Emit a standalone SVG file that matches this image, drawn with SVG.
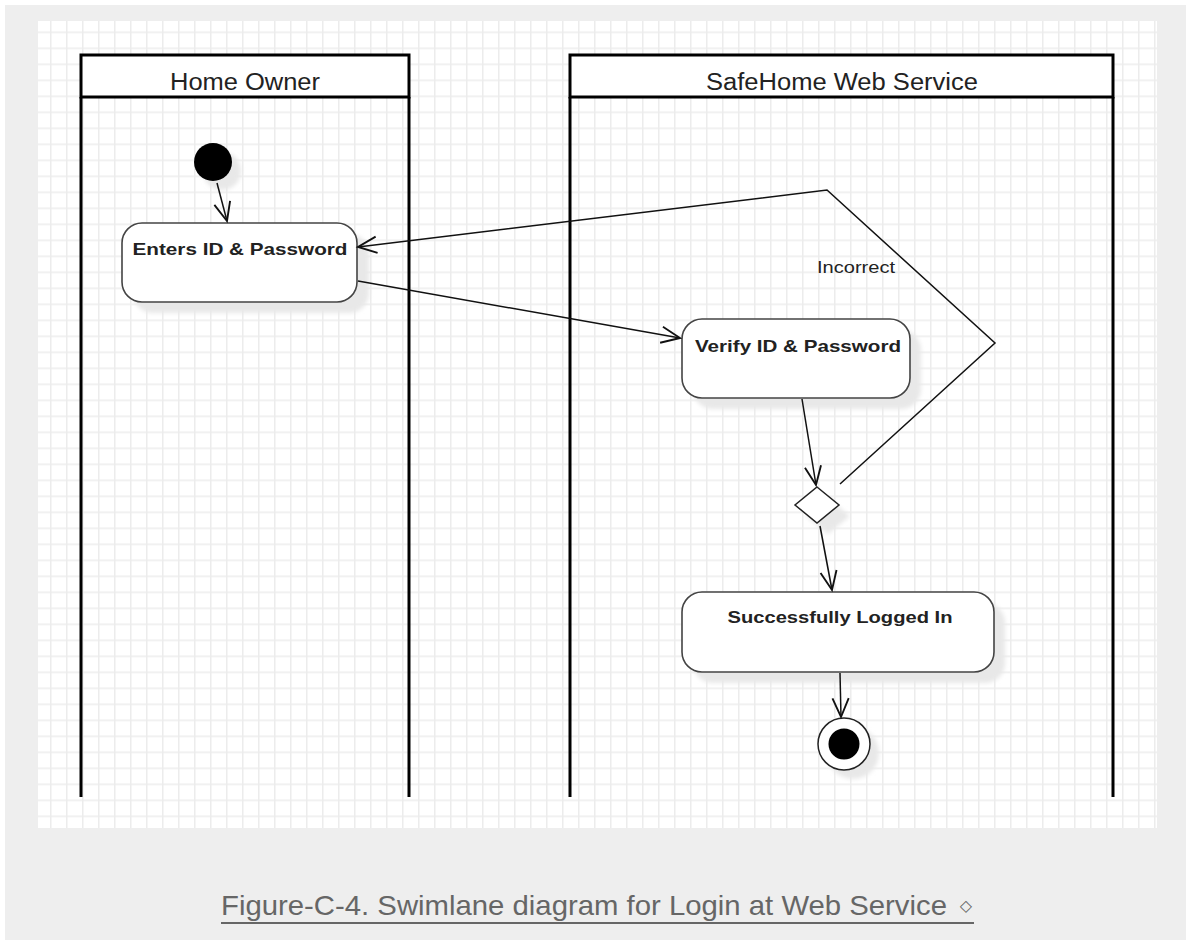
<svg xmlns="http://www.w3.org/2000/svg" width="1186" height="940" viewBox="0 0 1186 940">
<style>
.lane{fill:none;stroke:#000;stroke-width:3}
.hdr{fill:#fff;stroke:#000;stroke-width:3}
.hdrt{font-family:"Liberation Sans",Arial,sans-serif;font-size:23px;fill:#222}
.act{fill:#fff;stroke:#444;stroke-width:1.6}
.shd{fill:#e8e8e8;filter:url(#blur)}
.actt{font-family:"Liberation Sans",Arial,sans-serif;font-size:16.5px;font-weight:bold;fill:#222}
.edge{fill:none;stroke:#111;stroke-width:1.5}
.lbl{font-family:"Liberation Sans",Arial,sans-serif;font-size:16px;fill:#222}
.cap{font-family:"Liberation Sans",Arial,sans-serif;font-size:28.5px;fill:#666}
</style>
<defs>
<pattern id="grid" x="2" y="15.5" width="16" height="16" patternUnits="userSpaceOnUse">
<rect width="16" height="16" fill="#fff"/>
<rect x="0" y="0" width="1.5" height="16" fill="#ececec"/>
<rect x="0" y="0" width="16" height="1.5" fill="#ececec"/>
</pattern>
<filter id="blur" x="-20%" y="-20%" width="140%" height="140%"><feGaussianBlur stdDeviation="2"/></filter>
<marker id="arr" markerUnits="userSpaceOnUse" markerWidth="30" markerHeight="30" viewBox="-20 -10 24 20" refX="0" refY="0" orient="auto">
<path d="M -15 -6.5 L 0 0 L -15 6.5" fill="none" stroke="#111" stroke-width="1.5"/>
</marker>
</defs>
<rect width="1186" height="940" fill="#fff"/>
<rect x="5" y="5" width="1181" height="935" fill="#eeeeee"/>
<rect x="38" y="21" width="1119" height="807" fill="url(#grid)"/>

<g id="lane-home-owner">
<rect class="hdr" x="81" y="55" width="328" height="42"/>
<line class="lane" x1="81" y1="97" x2="81" y2="797"/>
<line class="lane" x1="409" y1="97" x2="409" y2="797"/>
<text class="hdrt" x="245" y="90" text-anchor="middle" textLength="150" lengthAdjust="spacingAndGlyphs">Home Owner</text>
</g>
<g id="lane-web-service">
<rect class="hdr" x="570" y="55" width="543" height="42"/>
<line class="lane" x1="570" y1="97" x2="570" y2="797"/>
<line class="lane" x1="1113" y1="97" x2="1113" y2="797"/>
<text class="hdrt" x="842" y="90" text-anchor="middle" textLength="272" lengthAdjust="spacingAndGlyphs">SafeHome Web Service</text>
</g>

<g id="start">
<circle class="shd" cx="222" cy="171" r="19"/>
<circle cx="213" cy="162" r="19" fill="#000"/>
</g>
<g id="enters">
<rect class="shd" x="133" y="234" width="236" height="79" rx="20"/>
<rect class="act" x="122" y="223" width="235" height="79" rx="20"/>
<text class="actt" x="240" y="255" text-anchor="middle" textLength="215" lengthAdjust="spacingAndGlyphs">Enters ID &amp; Password</text>
</g>
<g id="verify">
<rect class="shd" x="693" y="330" width="228" height="79" rx="20"/>
<rect class="act" x="682" y="319" width="228" height="79" rx="20"/>
<text class="actt" x="798" y="352" text-anchor="middle" textLength="206" lengthAdjust="spacingAndGlyphs">Verify ID &amp; Password</text>
</g>
<g id="decision">
<polygon class="shd" points="828,498 850,516 828,534 806,516"/>
<polygon points="817,487 839,505 817,523 795,505" fill="#fff" stroke="#222" stroke-width="1.5"/>
</g>
<g id="success">
<rect class="shd" x="693" y="603" width="312" height="80" rx="20"/>
<rect class="act" x="682" y="592" width="312" height="80" rx="20"/>
<text class="actt" x="840" y="623" text-anchor="middle" textLength="225" lengthAdjust="spacingAndGlyphs">Successfully Logged In</text>
</g>
<g id="final">
<circle class="shd" cx="853" cy="753" r="26"/>
<circle cx="844" cy="744" r="26" fill="#fff" stroke="#222" stroke-width="1.5"/>
<circle cx="844" cy="744" r="15.5" fill="#000"/>
</g>

<g id="connectors">
<line class="edge" x1="217" y1="183" x2="227" y2="221" marker-end="url(#arr)"/>
<line class="edge" x1="358" y1="281" x2="680" y2="338" marker-end="url(#arr)"/>
<line class="edge" x1="802" y1="399" x2="816" y2="485" marker-end="url(#arr)"/>
<line class="edge" x1="820" y1="526" x2="832" y2="590" marker-end="url(#arr)"/>
<line class="edge" x1="840" y1="673" x2="841" y2="717" marker-end="url(#arr)"/>
<polyline class="edge" points="840,484 995,343 827,190 358,247" marker-end="url(#arr)"/>
<text class="lbl" x="817" y="273" textLength="78" lengthAdjust="spacingAndGlyphs">Incorrect</text>
</g>

<g id="caption">
<text class="cap" x="221" y="915" textLength="726" lengthAdjust="spacingAndGlyphs">Figure-C-4. Swimlane diagram for Login at Web Service</text>
<text x="966" y="911" font-family="DejaVu Sans,sans-serif" font-size="16" fill="#666" text-anchor="middle">◇</text>
<line x1="221" y1="923" x2="974" y2="923" stroke="#666" stroke-width="2"/>
</g>
</svg>
